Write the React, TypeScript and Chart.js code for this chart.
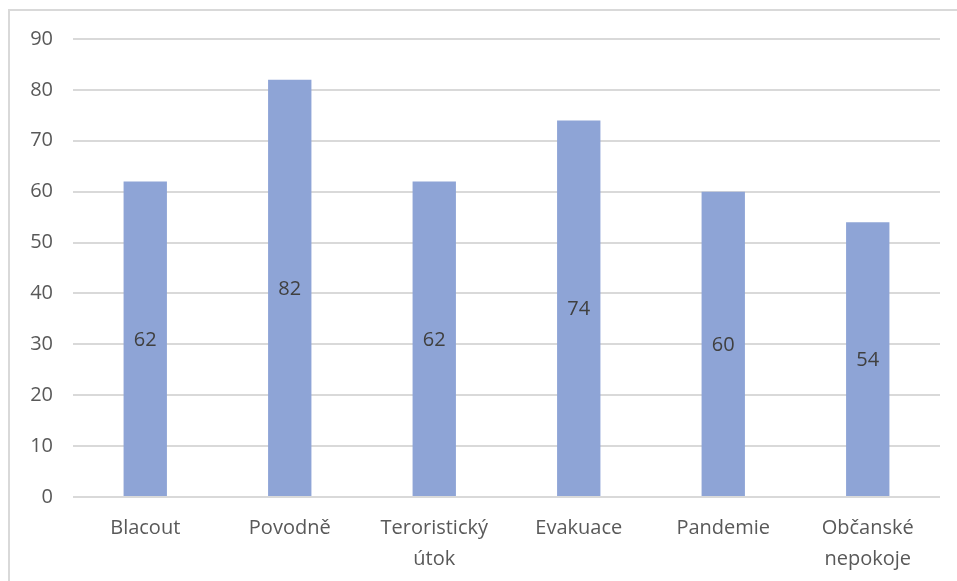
import React, { useEffect, useRef } from "react";
import { Chart, registerables } from "chart.js";

Chart.register(...registerables);

const categories: (string | string[])[] = [
  "Blacout",
  "Povodně",
  ["Teroristický", "útok"],
  "Evakuace",
  "Pandemie",
  ["Občanské", "nepokoje"],
];
const values = [62, 82, 62, 74, 60, 54];
const yMin = 0;
const yMax = 90;
const yStep = 10;

const FONT = "'Open Sans', 'DejaVu Sans', sans-serif";

const valueLabels = {
  id: "valueLabels",
  afterDatasetsDraw(chart: any) {
    const ctx = chart.ctx;
    const meta = chart.getDatasetMeta(0);
    const yScale = chart.scales.y;
    ctx.save();
    ctx.font = `20px ${FONT}`;
    ctx.fillStyle = "#404040";
    ctx.textAlign = "center";
    ctx.textBaseline = "middle";
    meta.data.forEach((bar: any, i: number) => {
      const v = values[i];
      const y = yScale.getPixelForValue(v / 2);
      ctx.fillText(String(v), bar.x, y + 1);
    });
    ctx.restore();
  },
};

export default function App() {
  const ref = useRef<HTMLCanvasElement | null>(null);
  useEffect(() => {
    if (!ref.current) return;
    const chart = new Chart(ref.current, {
      type: "bar",
      data: {
        labels: categories,
        datasets: [
          {
            data: values,
            backgroundColor: "#8EA4D6",
            barPercentage: 0.3,
            categoryPercentage: 1,
          },
        ],
      },
      options: {
        animation: false,
        responsive: false,
        maintainAspectRatio: false,
        layout: { padding: { left: 0, right: 17, top: 39, bottom: 0 } },
        plugins: {
          legend: { display: false },
          tooltip: { enabled: false },
        },
        scales: {
          x: {
            grid: { display: false, drawTicks: false },
            border: { display: false },
            ticks: {
              color: "#595959",
              font: { family: FONT, size: 20, lineHeight: 1.55 },
              padding: 16,
              maxRotation: 0,
              autoSkip: false,
            },
            afterFit(scale: any) {
              scale.height = 84;
            },
          },
          y: {
            min: yMin,
            max: yMax,
            ticks: {
              stepSize: yStep,
              color: "#595959",
              font: { family: FONT, size: 20 },
              padding: 20,
            },
            grid: { color: "#D9D9D9", lineWidth: 2, drawTicks: false },
            border: { display: false },
            afterFit(scale: any) {
              scale.width = 73;
            },
          },
        },
      },
      plugins: [valueLabels],
    });
    return () => chart.destroy();
  }, []);

  return (
    <div
      style={{
        position: "absolute",
        left: 0,
        top: 0,
        width: 957,
        height: 581,
        overflow: "hidden",
        background: "#fff",
      }}
    >
      <div
        style={{
          position: "absolute",
          left: 8,
          top: 9,
          width: 1000,
          height: 700,
          border: "2px solid #D9D9D9",
          boxSizing: "border-box",
        }}
      />
      <canvas
        ref={ref}
        width={957}
        height={581}
        style={{ position: "absolute", left: 0, top: 0, width: 957, height: 581 }}
      />
    </div>
  );
}
